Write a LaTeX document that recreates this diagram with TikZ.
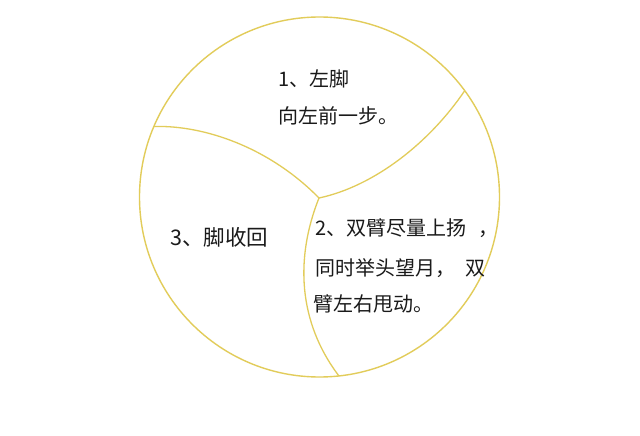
\documentclass[tikz,border=0pt]{standalone}
\usepackage{fontspec}
\setmainfont{Noto Sans CJK SC}
\definecolor{ringcol}{RGB}{226,204,90}
\definecolor{txtcol}{RGB}{26,26,26}
\tikzset{
  ring/.style={draw=ringcol, line width=1.4pt},
  divider/.style={draw=ringcol, line width=1.3pt},
  lbl/.style={anchor=base west, inner sep=0pt, text=txtcol, font=\fontsize{20pt}{24pt}\selectfont},
  lblbig/.style={lbl, font=\fontsize{21.5pt}{26pt}\selectfont}
}
\begin{document}
\begin{tikzpicture}[x=1pt, y=-1pt]
\fill[white] (0,0) rectangle (640,436);
\useasboundingbox (0,0) rectangle (640,436);
\coordinate (O) at (319.5,197);
\coordinate (J) at (319,198);
\coordinate (L) at (153.9,126.5);
\coordinate (R) at (464.7,90.7);
\coordinate (B) at (338.9,375.9);
\draw[ring] (O) circle[radius=180];
\draw[divider] (J) .. controls (270,148) and (205,125) .. (L);
\draw[divider] (J) .. controls (375,186) and (430,142) .. (R);
\draw[divider] (J) .. controls (295,258) and (298,322) .. (B);
\node[lbl] (t1a) at (278,86.5) {1、左脚};
\node[lbl] (t1b) at (278,123.5) {向左前一步。};
\node[lbl] (t2a) at (315,235.6) {2、双臂尽量上扬\hspace{12pt}，};
\node[lbl] (t2b) at (315,275.6) {同时举头望月，\hspace{10pt}双};
\node[lbl] (t2c) at (313,311.6) {臂左右甩动。};
\node[lblbig] (t3) at (170,245.5) {3、脚收回};
\end{tikzpicture}
\end{document}
